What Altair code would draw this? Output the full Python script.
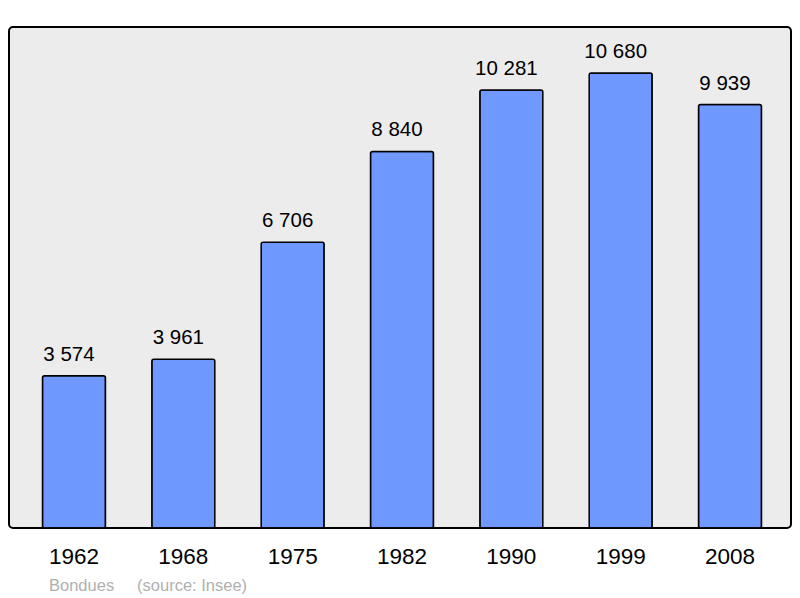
import altair as alt
import pandas as pd

years = ["1962", "1968", "1975", "1982", "1990", "1999", "2008"]
population = [3574, 3961, 6706, 8840, 10281, 10680, 9939]
labels = [f"{v:,}".replace(",", " ") for v in population]

df = pd.DataFrame({"year": years, "pop": population, "label": labels})

x = alt.X("year:N", sort=years,
          scale=alt.Scale(paddingInner=0.424, paddingOuter=0.288),
          axis=alt.Axis(title=None, labelAngle=0, domain=False, ticks=False,
                        labelFontSize=22.5, labelFont="Liberation Sans",
                        labelColor="black", labelPadding=17, labelOffset=2))
y = alt.Y("pop:Q", scale=alt.Scale(domain=[0, 11760], nice=False),
          axis=None)

bars = alt.Chart(df).mark_bar(color="#7099ff", stroke="black", strokeWidth=1.5,
                              cornerRadius=2, xOffset=2).encode(x=x, y=y)
text = alt.Chart(df).mark_text(baseline="alphabetic", dy=-15, dx=-3, fontSize=20.5,
                               font="Liberation Sans", color="black").encode(
    x=x, y=y, text="label:N")

chart = (bars + text).properties(
    width=782, height=501,
    title=alt.TitleParams("Bondues" + "\u00a0" * 5 + "(source: Insee)",
                          orient="bottom", anchor="start", dx=40, offset=10,
                          fontSize=16.5, font="Liberation Sans", fontWeight="normal",
                          color="#b0b0b0"),
    autosize=alt.AutoSizeParams(type="none"),
    padding={"left": 1, "top": 19, "right": 1, "bottom": 70},
).configure_view(
    fill="#ececec", stroke="black", strokeWidth=2, cornerRadius=4
)

chart.save("out.html", embed_options={"renderer": "svg", "actions": False})
